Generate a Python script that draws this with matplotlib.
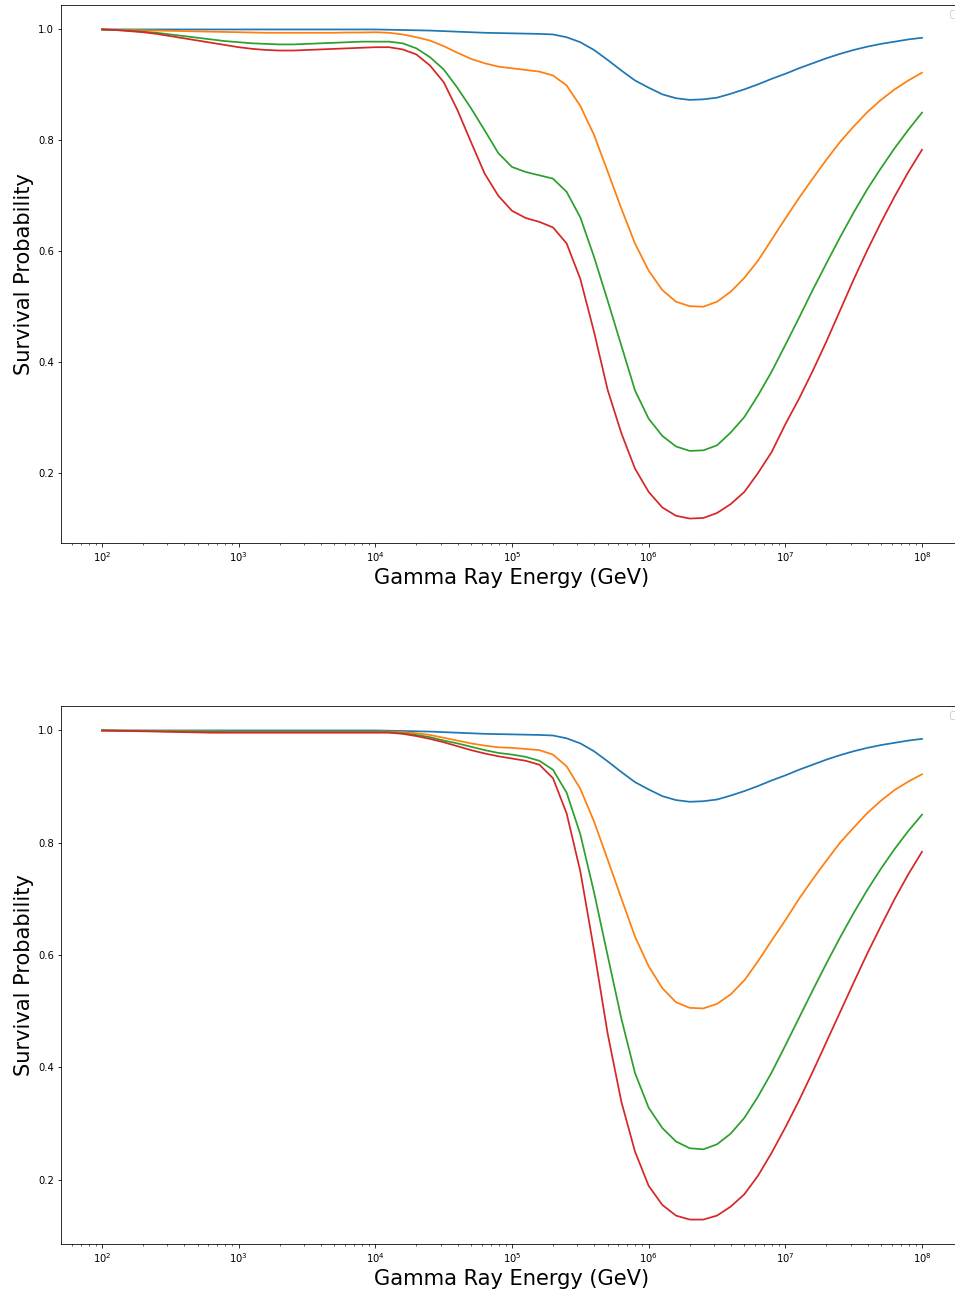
import numpy as np
import matplotlib
matplotlib.use("Agg")
import matplotlib.pyplot as plt

# log10 of the gamma ray energy grid (GeV), ten points per decade
log_energy = [2.0 + 0.1 * i for i in range(61)]

# --- upper panel ---
top_blue = [
    1.000, 1.000, 1.000, 1.000, 1.000, 1.000, 1.000, 1.000, 1.000, 1.000,
    1.000, 1.000, 1.000, 1.000, 1.000, 1.000, 1.000, 1.000, 1.000, 1.000,
    1.000, 0.9995, 0.999, 0.9985, 0.998, 0.997, 0.996, 0.995, 0.994, 0.9935,
    0.993, 0.9925, 0.992, 0.991, 0.986, 0.977, 0.963, 0.945, 0.926, 0.908,
    0.895, 0.883, 0.876, 0.873, 0.874, 0.877, 0.884, 0.892, 0.901, 0.911,
    0.920, 0.930, 0.939, 0.948, 0.956, 0.963, 0.969, 0.974, 0.978, 0.982,
    0.985,
]

top_orange = [
    1.000, 0.9995, 0.999, 0.9985, 0.998, 0.9975, 0.997, 0.9965, 0.996, 0.9955,
    0.995, 0.9945, 0.994, 0.994, 0.994, 0.994, 0.994, 0.994, 0.9945, 0.9945,
    0.995, 0.994, 0.991, 0.986, 0.980, 0.970, 0.958, 0.947, 0.939, 0.933,
    0.930, 0.927, 0.924, 0.917, 0.899, 0.862, 0.810, 0.744, 0.677, 0.614,
    0.565, 0.530, 0.509, 0.501, 0.500, 0.509, 0.527, 0.552, 0.583, 0.621,
    0.659, 0.696, 0.731, 0.765, 0.797, 0.825, 0.851, 0.873, 0.892, 0.908,
    0.922,
]

top_green = [
    1.000, 0.999, 0.998, 0.996, 0.994, 0.991, 0.988, 0.985, 0.982, 0.979,
    0.977, 0.975, 0.974, 0.973, 0.973, 0.974, 0.975, 0.976, 0.977, 0.978,
    0.978, 0.978, 0.975, 0.966, 0.950, 0.928, 0.895, 0.858, 0.818, 0.777,
    0.752, 0.743, 0.737, 0.731, 0.707, 0.661, 0.590, 0.511, 0.430, 0.349,
    0.298, 0.267, 0.248, 0.240, 0.241, 0.250, 0.273, 0.301, 0.340, 0.383,
    0.431, 0.480, 0.530, 0.578, 0.625, 0.670, 0.712, 0.750, 0.786, 0.819,
    0.850,
]

top_red = [
    1.000, 0.999, 0.997, 0.995, 0.992, 0.988, 0.984, 0.980, 0.976, 0.972,
    0.968, 0.965, 0.963, 0.962, 0.962, 0.963, 0.964, 0.965, 0.966, 0.967,
    0.968, 0.968, 0.964, 0.955, 0.935, 0.905, 0.855, 0.797, 0.740, 0.700,
    0.673, 0.660, 0.653, 0.643, 0.614, 0.550, 0.455, 0.350, 0.272, 0.208,
    0.166, 0.138, 0.123, 0.118, 0.119, 0.128, 0.144, 0.166, 0.200, 0.238,
    0.288, 0.334, 0.384, 0.437, 0.493, 0.549, 0.602, 0.652, 0.699, 0.743,
    0.783,
]

# --- lower panel ---
bottom_blue = top_blue

bottom_orange = [
    1.000, 0.9998, 0.9996, 0.9994, 0.9992, 0.999, 0.9988, 0.9986, 0.9984, 0.9982,
    0.998, 0.998, 0.998, 0.998, 0.998, 0.998, 0.998, 0.998, 0.998, 0.998,
    0.998, 0.998, 0.997, 0.995, 0.992, 0.987, 0.982, 0.977, 0.973, 0.970,
    0.969, 0.967, 0.965, 0.957, 0.936, 0.896, 0.838, 0.770, 0.701, 0.633,
    0.580, 0.541, 0.516, 0.506, 0.505, 0.513, 0.530, 0.555, 0.589, 0.626,
    0.662, 0.700, 0.735, 0.768, 0.800, 0.827, 0.853, 0.875, 0.894, 0.909,
    0.922,
]

bottom_green = [
    1.000, 0.9997, 0.9994, 0.9991, 0.9988, 0.9985, 0.9982, 0.9979, 0.9976, 0.9973,
    0.997, 0.997, 0.997, 0.997, 0.997, 0.997, 0.997, 0.997, 0.997, 0.997,
    0.997, 0.997, 0.995, 0.992, 0.988, 0.982, 0.977, 0.971, 0.965, 0.960,
    0.957, 0.953, 0.946, 0.930, 0.889, 0.815, 0.712, 0.599, 0.487, 0.390,
    0.328, 0.292, 0.268, 0.256, 0.254, 0.263, 0.282, 0.310, 0.348, 0.391,
    0.439, 0.488, 0.537, 0.585, 0.631, 0.675, 0.716, 0.754, 0.789, 0.821,
    0.850,
]

bottom_red = [
    1.000, 0.9995, 0.999, 0.9985, 0.998, 0.9975, 0.997, 0.9965, 0.996, 0.996,
    0.996, 0.996, 0.996, 0.996, 0.996, 0.996, 0.996, 0.996, 0.996, 0.996,
    0.996, 0.996, 0.994, 0.990, 0.985, 0.979, 0.972, 0.965, 0.959, 0.954,
    0.950, 0.946, 0.939, 0.915, 0.852, 0.749, 0.609, 0.460, 0.339, 0.250,
    0.189, 0.155, 0.136, 0.129, 0.129, 0.136, 0.152, 0.174, 0.207, 0.248,
    0.293, 0.341, 0.392, 0.445, 0.498, 0.551, 0.603, 0.652, 0.700, 0.744,
    0.784,
]

energy = np.power(10.0, log_energy)

panels = [
    [top_blue, top_orange, top_green, top_red],
    [bottom_blue, bottom_orange, bottom_green, bottom_red],
]


def draw_panel(ax, curves):

    for values in curves:

        ax.plot(energy, values, linewidth=1.75)

    ax.set_xscale("log")

    ax.set_xlabel("Gamma Ray Energy (GeV)", fontsize=21)

    ax.set_ylabel("Survival Probability", fontsize=21)

    # legend() is called with nothing labelled, so only the empty frame shows
    ax.legend()


fig = plt.figure(figsize=(955 / 72, 1295 / 72), dpi=72)

ax_top = fig.add_axes([61 / 955, 1 - 543 / 1295, 902 / 955, 538 / 1295])
ax_bottom = fig.add_axes([61 / 955, 1 - 1244 / 1295, 902 / 955, 538 / 1295])

draw_panel(ax_top, panels[0])
draw_panel(ax_bottom, panels[1])

fig.savefig("out.png", dpi=72)
